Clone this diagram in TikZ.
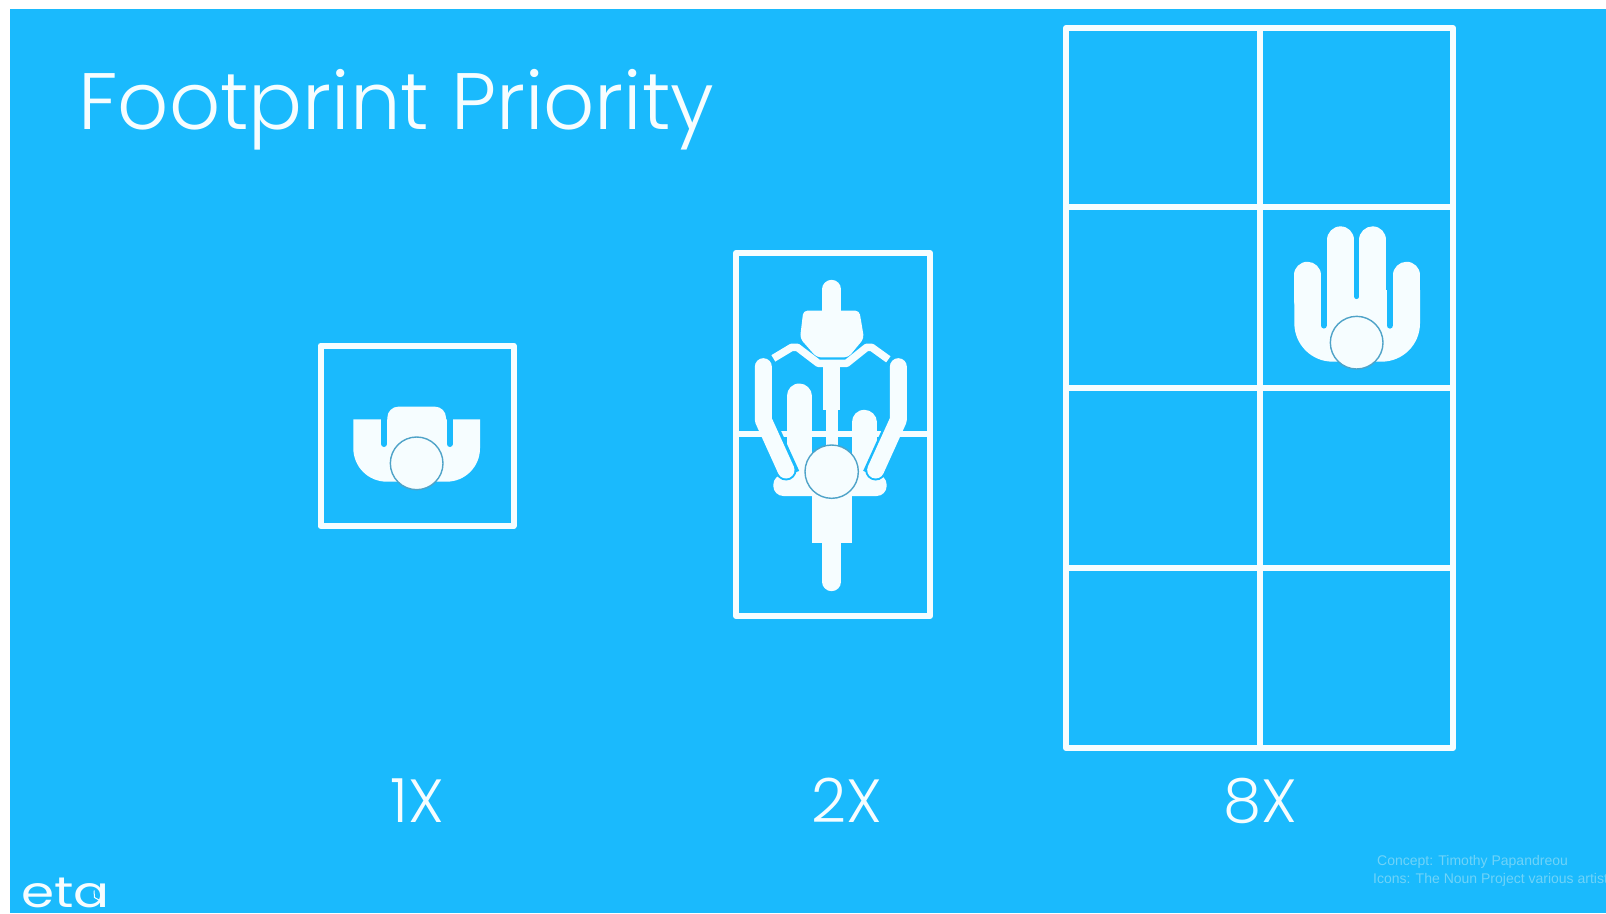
\documentclass[tikz,border=0pt]{standalone}
\usepackage{fontspec}
\setmainfont{Liberation Sans}
\newfontfamily\lightf{Poppins Light}
\newfontfamily\logof{Poppins}
\definecolor{sky}{HTML}{1ABAFD}
\definecolor{ink}{HTML}{F6FDFF}
\definecolor{rim}{HTML}{4FA3C8}
\definecolor{faint}{HTML}{6FD3F8}
\tikzset{
  frame/.style={draw=ink,line width=6pt,line join=round},
  wbar/.style={draw=ink,line cap=round,line join=round},
  gap/.style={draw=sky,line cap=round},
  headc/.style={fill=ink,draw=rim,line width=1.4pt},
  title/.style={text=ink,inner sep=0pt,anchor=base west,font=\lightf\fontsize{80}{80}\selectfont},
  factor/.style={text=ink,inner sep=0pt,anchor=base,font=\lightf\fontsize{61}{61}\selectfont},
  credit/.style={text=faint,inner sep=0pt,anchor=base west,font=\fontsize{14}{14}\selectfont}
}
\begin{document}
\begin{tikzpicture}[x=1pt,y=-1pt]
\useasboundingbox (0,0) rectangle (1606,913);
\fill[white] (0,0) rectangle (1606,913);
\fill[sky] (10,9) rectangle (1606,913);
\node[title] (heading) at (78,129) {Footprint Priority};
% frames
\draw[frame] (320.5,345.5) rectangle (513.5,526);
\draw[frame] (736,253) rectangle (930,616);
\draw[frame] (736,434) -- (930,434);
\draw[frame] (1066,28) rectangle (1453,748);
\draw[frame] (1260,28) -- (1260,748);
\draw[frame] (1066,207) -- (1453,207);
\draw[frame] (1066,388) -- (1453,388);
\draw[frame] (1066,568) -- (1453,568);
% icon 1
\begin{scope}[shift={(300,320)},scale=1/3]
\fill[ink] (160,298) -- (540,298) -- (540,385) arc[start angle=0,end angle=90,radius=100] -- (260,485) arc[start angle=90,end angle=180,radius=100] -- cycle;
\draw[gap,line width=6pt] (252,290) -- (252,372);
\draw[gap,line width=6pt] (449,290) -- (449,372);
\fill[ink,rounded corners=11pt] (262,260) rectangle (438,420);
\draw[headc] (350,430) circle[radius=79];
\end{scope}
% icon 2
\begin{scope}[shift={(720,240)},scale=1/3]
\draw[wbar,line width=19pt] (335,148) -- (335,210);
\fill[ink,rounded corners=4pt] (250,212) -- (418,212) -- (432,295) -- (385,352) -- (290,352) -- (240,295) -- cycle;
\draw[wbar,line width=7.5pt,line cap=butt] (160,355) -- (215,322) -- (232,322) -- (295,370) -- (380,370) -- (440,322) -- (455,322) -- (505,358);
\draw[wbar,line width=17pt,line cap=butt] (335,370) -- (335,510);
\draw[wbar,line width=12pt,line cap=butt] (335,510) -- (335,620);
\fill[ink,rounded corners=10pt] (160,704) rectangle (500,768);
\fill[ink] (275,750) rectangle (395,908);
\draw[wbar,line width=19pt] (335,900) -- (335,1025);
\draw[wbar,line width=25pt] (237,468) -- (237,700);
\draw[wbar,line width=25pt] (432,547) -- (432,700);
\draw[gap,line width=4pt,line cap=butt] (166,550) -- (232,695);
\draw[gap,line width=4pt,line cap=butt] (501,550) -- (435,695);
\draw[gap,line width=21pt] (190,672) -- (198,690);
\draw[gap,line width=21pt] (475,672) -- (467,690);
\draw[wbar,line width=17pt] (130,380) -- (130,540) -- (198,690);
\draw[wbar,line width=17pt] (535,380) -- (535,540) -- (467,690);
\draw[headc] (335,695) circle[radius=80];
\end{scope}
% icon 3
\begin{scope}[shift={(1260,200)},scale=1/3]
\fill[ink] (103,270) -- (480,270) -- (480,370) arc[start angle=0,end angle=90,radius=115] -- (218,485) arc[start angle=90,end angle=180,radius=115] -- cycle;
\draw[wbar,line width=26.5pt] (142,225) -- (142,300);
\draw[wbar,line width=26.5pt] (440,225) -- (440,300);
\draw[gap,line width=6.5pt] (191.4,170) -- (191.4,376);
\draw[gap,line width=6.67pt] (389.5,170) -- (389.5,376);
\draw[wbar,line width=27.3pt] (242,120) -- (242,340);
\draw[wbar,line width=27.3pt] (338.5,120) -- (338.5,340);
\draw[gap,line width=4.83pt] (290.25,60) -- (290.25,290);
\draw[headc] (290,428) circle[radius=79];
\end{scope}
\node[factor] (one) at (417,822) {1X};
\node[factor] (two) at (847,822) {2X};
\node[factor] (eight) at (1260,822) {8X};
\node[text=ink,inner sep=0pt,anchor=base west,xscale=1.24,font=\logof\fontsize{43}{43}\selectfont] (logo) at (21,907) {eta};
\coordinate (hand1) at (94,890.5);
\coordinate (hand2) at (94.5,897.5);
\coordinate (hand3) at (99,900);
\draw[ink,line width=1pt] (hand1) -- (hand2) -- (hand3);
\begin{scope}
\clip (0,0) rectangle (1606,913);
\node[credit] (c1) at (1377,865) {Concept: Timothy Papandreou};
\node[credit] (c2) at (1373,883) {Icons: The Noun Project various artists};
\end{scope}
\end{tikzpicture}
\end{document}
